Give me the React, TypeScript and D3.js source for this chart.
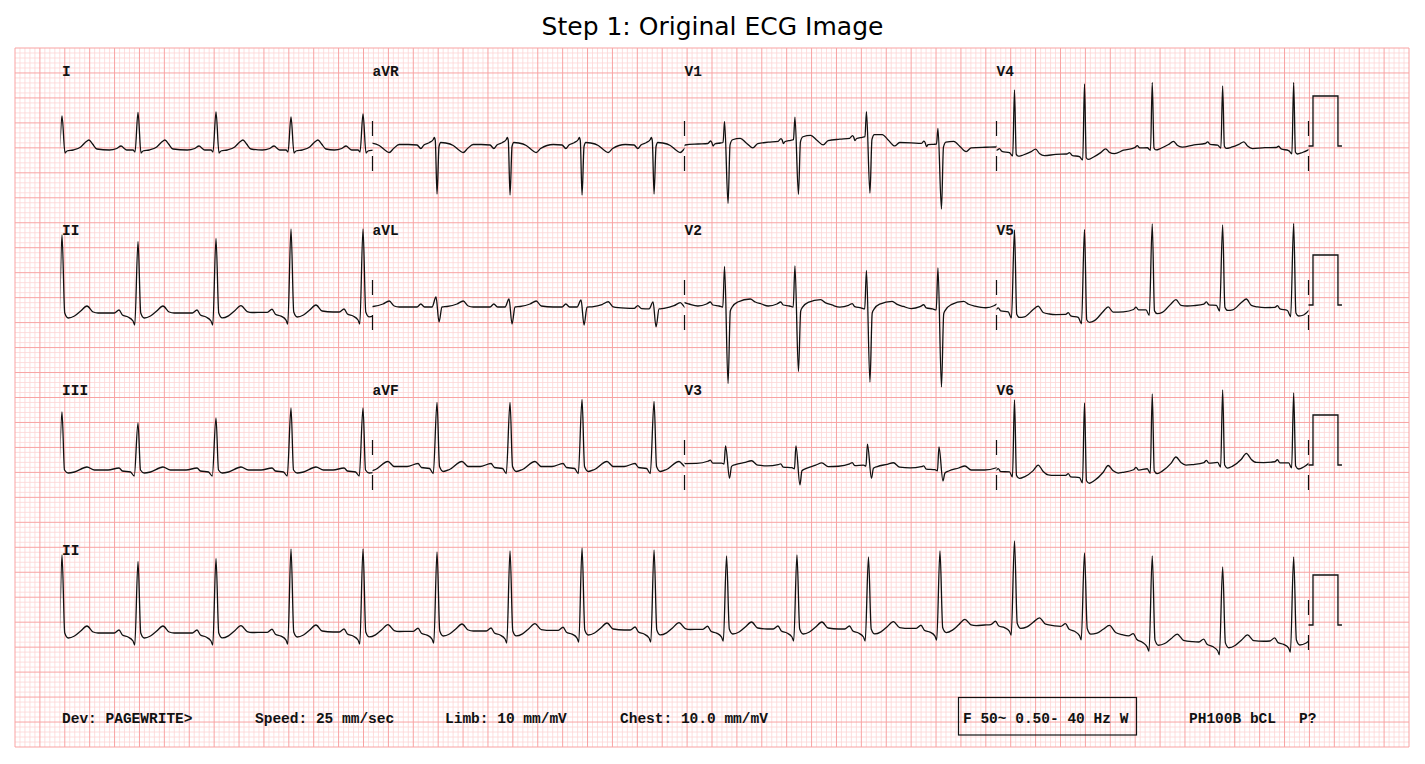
import * as d3 from "d3";

// R-peak times (s) read from the rhythm strip
const BEAT_TIMES = [
  0.012, 0.621, 1.246, 1.847, 2.424, 3.017, 3.602, 4.179, 4.756,
  5.337, 5.901, 6.474, 7.047, 7.644, 8.205, 8.748, 9.312, 9.881,
];

// beat templates: [ms from beat, mV] ; "r"/"s" take the per-beat value
type Pt = [number, number | "r" | "s"];

const TPL_I: Pt[] = [[-230, 0], [-170, 0.03], [-136, 0.08], [-105, 0.02], [-90, 0], [-40, 0], [-24, -0.04], [0, "r"], [24, -0.06], [40, -0.02], [90, 0], [150, 0.06], [190, 0.16], [216, 0.2], [245, 0.12], [280, 0.02], [320, 0]];
const TPL_II: Pt[] = [[-240, 0], [-190, 0], [-152, 0.06], [-125, -0.04], [-80, -0.08], [-40, -0.16], [-26, -0.24], [0, "r"], [22, 0], [50, -0.1], [100, -0.06], [150, 0.04], [200, 0.14], [250, 0.02], [290, 0], [330, 0]];
const TPL_III: Pt[] = [[-240, 0], [-152, 0.04], [-125, -0.02], [-60, -0.04], [-30, -0.12], [0, "r"], [20, 0], [50, -0.06], [100, -0.04], [200, 0.06], [260, 0], [330, 0]];
const TPL_AVR: Pt[] = [[-230, 0], [-160, -0.01], [-130, -0.08], [-105, -0.01], [-60, 0.04], [-30, 0.1], [-22, 0.14], [-14, 0.08], [0, "s"], [16, -0.04], [30, 0.04], [70, 0.03], [130, -0.02], [180, -0.12], [210, -0.16], [245, -0.08], [290, 0], [320, 0]];
const TPL_AVL: Pt[] = [[-230, 0], [-160, 0], [-130, 0.06], [-100, 0], [-40, 0], [-8, "r"], [16, "s"], [40, 0], [80, 0.01], [160, 0.06], [210, 0.12], [250, 0.02], [290, 0], [320, 0]];
const TPL_AVF: Pt[] = [[-240, 0], [-152, 0.06], [-125, -0.02], [-60, -0.04], [-30, -0.14], [0, "r"], [20, 0], [50, -0.1], [100, -0.06], [200, 0.1], [250, 0], [330, 0]];
const TPL_V1: Pt[] = [[-230, 0], [-150, 0.01], [-128, 0.06], [-118, 0.03], [-108, -0.04], [-95, 0], [-50, 0.02], [-28, 0.03], [-16, "r"], [12, "s"], [28, -0.02], [48, 0.08], [110, 0.1], [160, 0], [210, -0.1], [250, -0.02], [300, 0.03], [320, 0.03]];
const TPL_V2: Pt[] = [[-230, 0], [-160, 0.04], [-130, 0.08], [-110, 0.02], [-60, 0], [-30, -0.02], [-16, "r"], [12, "s"], [30, -0.1], [45, -0.02], [90, 0.08], [190, 0.14], [230, 0.08], [280, 0.04], [320, 0.02]];
const TPL_V3: Pt[] = [[-240, 0], [-150, 0.04], [-130, 0.06], [-110, 0], [-40, 0], [-20, -0.02], [-8, "r"], [24, "s"], [40, -0.06], [70, -0.02], [150, 0.04], [200, 0.08], [250, 0], [330, 0]];
const TPL_V4: Pt[] = [[-230, 0], [-140, 0.02], [-120, 0.05], [-100, 0], [-40, -0.02], [-14, -0.08], [0, "r"], [14, -0.04], [30, -0.08], [70, -0.05], [130, 0.02], [170, 0.08], [200, 0], [240, -0.04], [300, 0]];
const TPL_V5: Pt[] = [[-230, 0], [-150, 0.02], [-130, 0.06], [-110, 0], [-50, -0.02], [-24, -0.14], [0, "r"], [18, -0.06], [40, -0.12], [80, -0.1], [150, 0.06], [190, 0.14], [230, 0.02], [280, 0], [320, 0]];
const TPL_V6: Pt[] = [[-240, 0], [-150, 0.02], [-130, 0.06], [-110, 0], [-40, 0], [-16, -0.1], [0, "r"], [16, -0.06], [40, -0.12], [80, -0.08], [150, 0.06], [190, 0.18], [230, 0.06], [270, 0], [330, 0]];

// per-beat amplitudes (mV) and baseline offsets (mV)
const II_R = [1.56, 1.43, 1.49, 1.66, 1.66, 1.58, 1.6, 1.64, 1.6, 1.46, 1.48, 1.44, 1.54, 1.64, 1.5, 1.68, 1.52, 1.66];
const II_BASE = [-0.16, -0.16, -0.16, -0.14, -0.14, -0.12, -0.12, -0.1, -0.1, -0.08, -0.08, -0.08, -0.06, 0.04, -0.06, -0.3, -0.36, -0.3];
const I_R = [0.68, 0.75, 0.76, 0.66, 0.72, 0.7];
const I_BASE = [-0.08, -0.08, -0.08, -0.08, -0.08, -0.08];
const III_R = [1.16, 0.94, 1.04, 1.24, 1.24, 1.2];
const III_BASE = [-0.1, -0.1, -0.1, -0.1, -0.1, -0.1];
const AVR_S = [-0.95, -0.99, -1.01, -1.01, -0.99, -1.0];
const AVR_BASE = [0.03, 0.03, 0.03, 0.03, 0.03, 0.03];
const AVL_R = [0.18, 0.2, 0.16, 0.14, 0.14, 0.18];
const AVL_S = [-0.3, -0.3, -0.34, -0.36, -0.36, -0.3];
const AVL_BASE = [-0.04, -0.04, -0.04, -0.04, -0.08, -0.06];
const AVF_R = [1.45, 1.28, 1.28, 1.34, 1.3, 1.3];
const AVF_BASE = [-0.03, -0.03, -0.03, -0.03, -0.03, -0.03];
const V1_R = [0.45, 0.45, 0.48, 0.53, 0.35, 0.45];
const V1_S = [-1.1, -1.19, -1.07, -1.1, -1.26, -1.1];
const V1_BASE = [0.04, 0.04, 0.1, 0.16, 0, -0.04];
const V2_R = [0.8, 0.79, 0.8, 0.75, 0.82, 0.8];
const V2_S = [-1.5, -1.55, -1.31, -1.48, -1.56, -1.5];
const V2_BASE = [-0.02, -0.02, -0.02, -0.06, -0.08, -0.04];
const V3_R = [0.35, 0.34, 0.44, 0.42, 0.46, 0.35];
const V3_S = [-0.3, -0.3, -0.34, -0.26, -0.22, -0.3];
const V3_BASE = [0.02, 0.04, -0.06, 0, -0.1, -0.1];
const V4_R = [1.2, 1.24, 1.44, 1.27, 1.16, 1.35];
const V4_BASE = [-0.04, -0.12, -0.2, 0, 0.04, -0.08];
const V5_R = [1.7, 1.62, 1.75, 1.68, 1.58, 1.73];
const V5_BASE = [-0.1, -0.12, -0.24, -0.06, 0.02, -0.1];
const V6_R = [1.44, 1.44, 1.5, 1.48, 1.44, 1.4];
const V6_BASE = [-0.1, -0.14, -0.26, -0.06, 0.06, 0.04];

// row, column, first beat index of the per-beat arrays
const LEADS = [
  { name: "I", row: 0, col: 0, first: 0, tpl: TPL_I, r: I_R, s: null, base: I_BASE },
  { name: "aVR", row: 0, col: 1, first: 4, tpl: TPL_AVR, r: null, s: AVR_S, base: AVR_BASE },
  { name: "V1", row: 0, col: 2, first: 8, tpl: TPL_V1, r: V1_R, s: V1_S, base: V1_BASE },
  { name: "V4", row: 0, col: 3, first: 12, tpl: TPL_V4, r: V4_R, s: null, base: V4_BASE },
  { name: "II", row: 1, col: 0, first: 0, tpl: TPL_II, r: II_R, s: null, base: II_BASE },
  { name: "aVL", row: 1, col: 1, first: 4, tpl: TPL_AVL, r: AVL_R, s: AVL_S, base: AVL_BASE },
  { name: "V2", row: 1, col: 2, first: 8, tpl: TPL_V2, r: V2_R, s: V2_S, base: V2_BASE },
  { name: "V5", row: 1, col: 3, first: 12, tpl: TPL_V5, r: V5_R, s: null, base: V5_BASE },
  { name: "III", row: 2, col: 0, first: 0, tpl: TPL_III, r: III_R, s: null, base: III_BASE },
  { name: "aVF", row: 2, col: 1, first: 4, tpl: TPL_AVF, r: AVF_R, s: null, base: AVF_BASE },
  { name: "V3", row: 2, col: 2, first: 8, tpl: TPL_V3, r: V3_R, s: V3_S, base: V3_BASE },
  { name: "V6", row: 2, col: 3, first: 12, tpl: TPL_V6, r: V6_R, s: null, base: V6_BASE },
  { name: "II", row: 3, col: -1, first: 0, tpl: TPL_II, r: II_R, s: null, base: II_BASE },
];

// calibration pulse: [s after end of strip, mV]
const PULSE: [number, number][] = [[0, 0], [0.036, 0], [0.036, 1], [0.236, 1], [0.236, 0], [0.268, 0]];

const FOOTER = ["Dev: PAGEWRITE>", "Speed: 25 mm/sec", "Limb: 10 mm/mV", "Chest: 10.0 mm/mV", "F 50~ 0.50- 40 Hz W", "PH100B bCL", "P?"];
const FOOTER_X = [62, 255, 445, 620, 963, 1189, 1299];

const W = 1425;
const H = 764;
const PAPER = { x: 15, y: 48, w: 1394, h: 699 };
const ROW_BASE = [146, 305, 465, 625];
const MONO = "'Liberation Mono', 'Courier New', monospace";

const x = d3.scaleLinear().domain([0, 10]).range([60.5, 1308.5]);
const yRow = (r: number) => d3.scaleLinear().domain([0, 1]).range([ROW_BASE[r], ROW_BASE[r] - 50]);

function leadPoints(lead: (typeof LEADS)[number]) {
  const n = lead.base.length;
  const times = d3.range(n).map((i) => BEAT_TIMES[lead.first + i]);
  const drift = d3.scaleLinear().domain(times).range(lead.base).clamp(true);
  const pts: [number, number][] = [];
  for (let i = 0; i < n; i++) {
    const k = lead.first + i;
    const tk = BEAT_TIMES[k];
    const lo = k > 0 ? (BEAT_TIMES[k - 1] + tk) / 2 : -Infinity;
    const hi = k < BEAT_TIMES.length - 1 ? (tk + BEAT_TIMES[k + 1]) / 2 : Infinity;
    for (const [ms, v] of lead.tpl) {
      const t = tk + ms / 1000;
      if (t < lo || t >= hi) continue;
      const amp = v === "r" ? lead.r![i] : v === "s" ? lead.s![i] : v;
      pts.push([t, amp + drift(t)]);
    }
  }
  return pts;
}

export default function App() {
  const gx = d3.scaleLinear().domain([0, 280]).range([PAPER.x, PAPER.x + PAPER.w]);
  const gy = d3.scaleLinear().domain([0, 140]).range([PAPER.y, PAPER.y + PAPER.h]);
  const minorX = d3.range(0, 281).filter((i) => i % 5 !== 0);
  const minorY = d3.range(0, 141).filter((i) => i % 5 !== 0);
  const majorX = d3.range(0, 281, 5);
  const majorY = d3.range(0, 141, 5);

  return (
    <svg width={W} height={H} style={{ position: "absolute", left: 0, top: 0, background: "#fff" }}>
      <text x={W / 2} y={35} textAnchor="middle" fontFamily="'DejaVu Sans', sans-serif" fontSize={25}>
        Step 1: Original ECG Image
      </text>
      <defs>
        {LEADS.map((l, i) => (
          <clipPath id={`clip${i}`} key={i}>
            <rect
              x={l.col < 0 ? x(0) : x(l.col * 2.5)}
              y={PAPER.y}
              width={l.col < 0 ? x(10) - x(0) : x(2.5) - x(0)}
              height={PAPER.h}
            />
          </clipPath>
        ))}
      </defs>
      <g>
        {minorX.map((i) => (
          <line key={`mx${i}`} x1={gx(i)} x2={gx(i)} y1={PAPER.y} y2={PAPER.y + PAPER.h} stroke="#fcd6d6" strokeWidth={0.8} />
        ))}
        {minorY.map((i) => (
          <line key={`my${i}`} y1={gy(i)} y2={gy(i)} x1={PAPER.x} x2={PAPER.x + PAPER.w} stroke="#fcd6d6" strokeWidth={0.8} />
        ))}
        {majorX.map((i) => (
          <line key={`Mx${i}`} x1={gx(i)} x2={gx(i)} y1={PAPER.y} y2={PAPER.y + PAPER.h} stroke="#f8a3a3" strokeWidth={1} />
        ))}
        {majorY.map((i) => (
          <line key={`My${i}`} y1={gy(i)} y2={gy(i)} x1={PAPER.x} x2={PAPER.x + PAPER.w} stroke="#f8a3a3" strokeWidth={1} />
        ))}
      </g>
      {LEADS.map((l, i) => {
        const y = yRow(l.row);
        const line = d3
          .line<[number, number]>()
          .x((d) => x(d[0]))
          .y((d) => y(d[1]))
          .curve(d3.curveMonotoneX);
        const lx = l.col < 0 ? x(0) + 1.5 : l.col === 0 ? x(0) + 1.5 : x(l.col * 2.5);
        return (
          <g key={i}>
            <path d={line(leadPoints(l)) ?? ""} fill="none" stroke="#111" strokeWidth={1.3} clipPath={`url(#clip${i})`} />
            <text x={lx} y={ROW_BASE[l.row] - 70} fontFamily={MONO} fontWeight="bold" fontSize={14.5} fill="#111">
              {l.name}
            </text>
          </g>
        );
      })}
      {ROW_BASE.map((b, r) => {
        const y = yRow(r);
        const seps = r < 3 ? [2.5, 5, 7.5, 10] : [10];
        const pulse = d3
          .line<[number, number]>()
          .x((d) => x(10 + d[0]))
          .y((d) => y(d[1]));
        return (
          <g key={`r${r}`}>
            {seps.map((t) => (
              <g key={t} stroke="#111" strokeWidth={1.2}>
                <line x1={x(t)} x2={x(t)} y1={y(0.5)} y2={y(0.2)} />
                <line x1={x(t)} x2={x(t)} y1={y(-0.2)} y2={y(-0.5)} />
              </g>
            ))}
            <path d={pulse(PULSE) ?? ""} fill="none" stroke="#111" strokeWidth={1.3} />
          </g>
        );
      })}
      <rect x={958.5} y={697.5} width={178} height={37.5} fill="none" stroke="#111" strokeWidth={1.2} />
      {FOOTER.map((t, i) => (
        <text key={t} x={FOOTER_X[i]} y={722.5} fontFamily={MONO} fontWeight="bold" fontSize={14.5} fill="#111" xmlSpace="preserve">
          {t}
        </text>
      ))}
    </svg>
  );
}
